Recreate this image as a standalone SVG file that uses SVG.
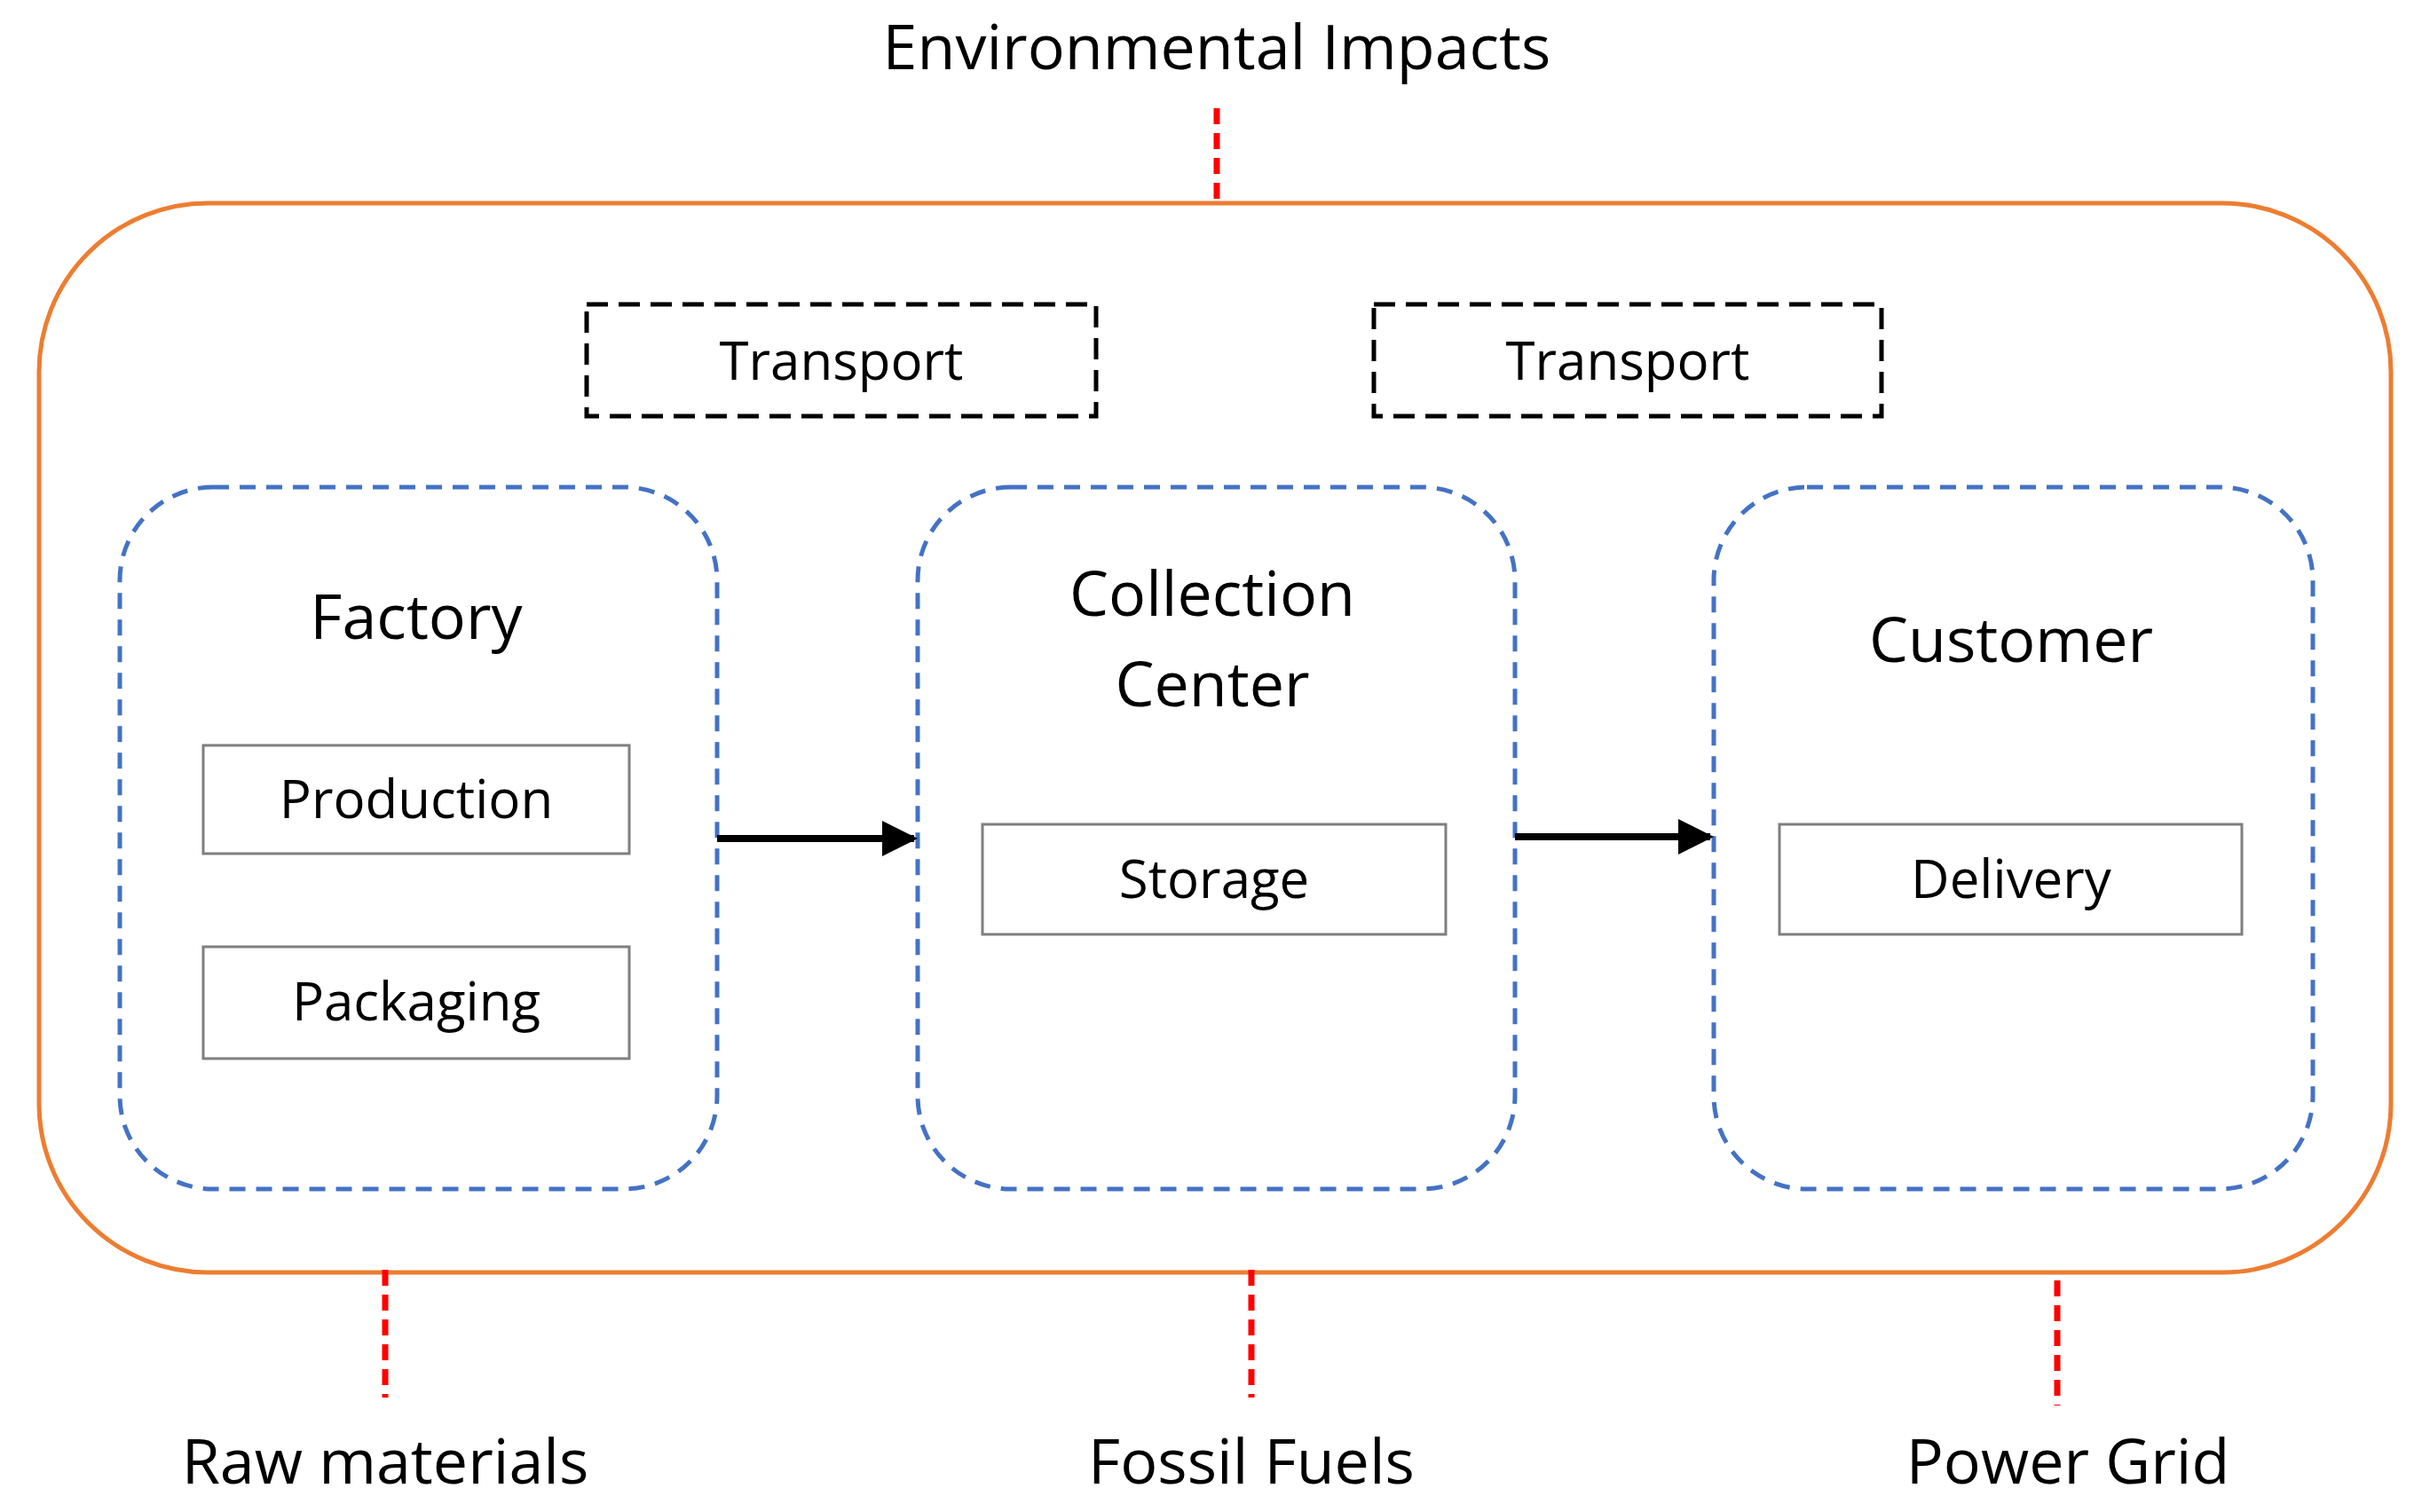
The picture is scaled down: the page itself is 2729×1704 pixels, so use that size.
<svg xmlns="http://www.w3.org/2000/svg" width="2729" height="1704" viewBox="0 0 2729 1704">
<style>
text{font-family:"Open Sans","Liberation Sans",sans-serif;fill:#000;text-anchor:middle}
.big{font-size:70px}.mid{font-size:60px}.lab{font-size:70px}
.red{stroke:#FF0000;stroke-width:7;stroke-dasharray:18 10;fill:none}
.blue{fill:none;stroke:#4472C4;stroke-width:5;stroke-dasharray:18 12}
.gray{fill:#fff;stroke:#7F7F7F;stroke-width:3}
.tr{fill:#fff;stroke:#000;stroke-width:5;stroke-dasharray:24 12}
</style>
<defs><marker id="ah" markerWidth="5" markerHeight="5" refX="4.5" refY="2.5" orient="auto" markerUnits="strokeWidth"><path d="M0,0 L5,2.5 L0,5 z" fill="#000"/></marker></defs>
<rect width="2729" height="1704" fill="#fff"/>
<g id="outer"><rect x="44" y="229" width="2650" height="1205" rx="190" fill="none" stroke="#ED7D31" stroke-width="5"/></g>
<g id="env"><text class="lab" x="1371" y="78">Environmental Impacts</text></g>
<g id="transport1"><rect class="tr" x="661" y="343" width="574" height="126"/><text class="mid" x="948" y="428">Transport</text></g>
<g id="transport2"><rect class="tr" x="1548" y="343" width="572" height="126"/><text class="mid" x="1834" y="428">Transport</text></g>
<g id="factory"><rect class="blue" x="135" y="549" width="673" height="791" rx="105"/><text class="big" x="469" y="720">Factory</text></g>
<g id="collection"><rect class="blue" x="1034" y="549" width="673" height="791" rx="105"/><text class="big" x="1366" y="694">Collection</text><text class="big" x="1366" y="796">Center</text></g>
<g id="customer"><rect class="blue" x="1931" y="549" width="675" height="791" rx="105"/><text class="big" x="2266" y="746">Customer</text></g>
<g id="production"><rect class="gray" x="229" y="840" width="480" height="122"/><text class="mid" x="469" y="922">Production</text></g>
<g id="packaging"><rect class="gray" x="229" y="1067" width="480" height="126"/><text class="mid" x="469" y="1150">Packaging</text></g>
<g id="storage"><rect class="gray" x="1107" y="929" width="522" height="124"/><text class="mid" x="1368" y="1012">Storage</text></g>
<g id="delivery"><rect class="gray" x="2005" y="929" width="521" height="124"/><text class="mid" x="2266" y="1012">Delivery</text></g>
<g id="raw"><text class="lab" x="434" y="1672">Raw materials</text></g>
<g id="fossil"><text class="lab" x="1410" y="1672">Fossil Fuels</text></g>
<g id="power"><text class="lab" x="2330" y="1672">Power Grid</text></g>
<g id="connectors">
<line x1="808" y1="945" x2="1030" y2="945" stroke="#000" stroke-width="8" marker-end="url(#ah)"/>
<line x1="1707" y1="943" x2="1927" y2="943" stroke="#000" stroke-width="8" marker-end="url(#ah)"/>
<line class="red" x1="1371" y1="122" x2="1371" y2="229"/>
<line class="red" x1="434" y1="1431" x2="434" y2="1575"/>
<line class="red" x1="1410" y1="1431" x2="1410" y2="1575"/>
<line class="red" x1="2318" y1="1443" x2="2318" y2="1584"/>
</g>
</svg>
